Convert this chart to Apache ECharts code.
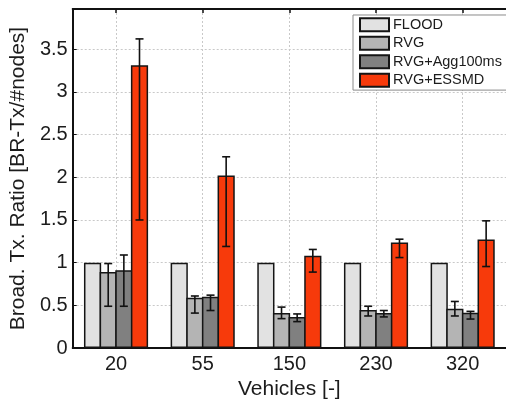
<!DOCTYPE html>
<html>
<head>
<meta charset="utf-8">
<script src="https://cdn.jsdelivr.net/npm/echarts@6/dist/echarts.min.js"></script>
<style>
  html, body { margin: 0; padding: 0; background: #fff; }
  #chart { width: 506px; height: 405px; }
</style>
</head>
<body>
<div id="chart"></div>
<script>
// Vehicle counts on the x axis
var categories = ['20', '55', '150', '230', '320'];

// Mean broadcast transmission ratio per scheme
var flood  = [1, 1, 1, 1, 1];
var rvg    = [0.89, 0.59, 0.41, 0.445, 0.46];
var rvgAgg = [0.91, 0.60, 0.365, 0.41, 0.415];
var essmd  = [3.31, 2.02, 1.08, 1.235, 1.27];

// Error bar ranges (low / high)
var rvgLow    = [0.49, 0.41, 0.345, 0.376, 0.376];
var rvgHigh   = [0.99, 0.61, 0.48, 0.49, 0.546];
var rvgAggLow = [0.49, 0.44, 0.31, 0.365, 0.34];
var rvgAggHigh= [1.09, 0.62, 0.40, 0.44, 0.43];
var essmdLow  = [1.50, 1.19, 0.89, 1.06, 0.955];
var essmdHigh = [3.62, 2.24, 1.155, 1.275, 1.49];

var seriesNames = ['FLOOD', 'RVG', 'RVG+Agg100ms', 'RVG+ESSMD'];
var colors = ['#e2e2e2', '#b4b4b4', '#808080', '#f73a0b'];

// Fraction of each category band occupied by the bar group; bars overlap
// slightly so neighbouring outlines merge into a single line
var GROUP_FRACTION = 0.74;
var GAP = -0.09;
var FONT = 'Liberation Sans, Arial, Helvetica, sans-serif';
var TEXT = '#1c1c1c';

function barSeries(name, data, color) {
  return {
    name: name,
    type: 'bar',
    data: data,
    barGap: (GAP * 100) + '%',
    barCategoryGap: ((1 - GROUP_FRACTION) * 100) + '%',
    itemStyle: { color: color, borderColor: '#151515', borderWidth: 1.5 },
    z: 2
  };
}

// Error bars drawn on top of the bar with the given slot index in the group
function errorSeries(slot, low, high) {
  var data = low.map(function (l, i) { return [i, l, high[i]]; });
  return {
    type: 'custom',
    data: data,
    z: 5,
    silent: true,
    encode: { x: 0, y: [1, 2] },
    renderItem: function (params, api) {
      var idx = api.value(0);
      var lo = api.coord([idx, api.value(1)]);
      var hi = api.coord([idx, api.value(2)]);
      var groupW = api.size([1, 0])[0] * GROUP_FRACTION;
      var barW = groupW / (4 + 3 * GAP);
      var x = lo[0] - groupW / 2 + barW / 2 + slot * barW * (1 + GAP);
      var cap = 4;
      var style = { stroke: '#111', lineWidth: 1.6 };
      return {
        type: 'group',
        children: [
          { type: 'line', shape: { x1: x, y1: lo[1], x2: x, y2: hi[1] }, style: style },
          { type: 'line', shape: { x1: x - cap, y1: lo[1], x2: x + cap, y2: lo[1] }, style: style },
          { type: 'line', shape: { x1: x - cap, y1: hi[1], x2: x + cap, y2: hi[1] }, style: style }
        ]
      };
    }
  };
}

var chart = echarts.init(document.getElementById('chart'), null, { renderer: 'canvas' });

chart.setOption({
  animation: false,
  backgroundColor: '#fff',
  grid: { left: 70, top: 9, width: 440, height: 343.5, containLabel: false },
  legend: {
    orient: 'vertical',
    left: 353,
    top: 15,
    padding: [2.3, 6, 2.3, 6],
    icon: 'rect',
    itemWidth: 29,
    itemHeight: 13,
    itemGap: 3.5,
    backgroundColor: '#fff',
    borderColor: '#8a8a8a',
    borderWidth: 1,
    textStyle: { fontFamily: FONT, fontSize: 14.5, lineHeight: 14, color: TEXT, padding: [0, 0, 0, -1] },
    data: seriesNames
  },
  xAxis: [
    {
      type: 'category',
      data: categories,
      position: 'bottom',
      name: 'Vehicles [-]',
      nameLocation: 'middle',
      nameGap: 26,
      nameTextStyle: { fontFamily: FONT, fontSize: 21, color: TEXT },
      axisLine: { lineStyle: { color: '#111', width: 2 } },
      axisTick: { show: true, inside: true, alignWithLabel: true, length: 4, lineStyle: { color: '#111' } },
      axisLabel: { fontFamily: FONT, fontSize: 20, color: TEXT, margin: 6 },
      splitLine: { show: true, alignWithLabel: true, lineStyle: { color: '#c9c9c9', type: [2, 2], width: 1 } }
    },
    {
      type: 'category',
      data: categories,
      position: 'top',
      axisLine: { lineStyle: { color: '#111', width: 2 } },
      axisTick: { show: true, inside: true, alignWithLabel: true, length: 4, lineStyle: { color: '#111', width: 1.5 } },
      axisLabel: { show: false },
      splitLine: { show: false }
    }
  ],
  yAxis: {
    type: 'value',
    min: 0,
    max: 3.97,
    interval: 0.5,
    name: 'Broad. Tx. Ratio [BR-Tx/#nodes]',
    nameLocation: 'middle',
    nameGap: 39,
    nameTextStyle: { fontFamily: FONT, fontSize: 21, color: TEXT },
    axisLine: { show: true, lineStyle: { color: '#111', width: 2 } },
    axisTick: { show: true, inside: true, length: 4, lineStyle: { color: '#111' } },
    axisLabel: { fontFamily: FONT, fontSize: 20, color: TEXT, margin: 5, showMaxLabel: false },
    splitLine: { show: true, lineStyle: { color: '#c9c9c9', type: [2, 2], width: 1 } }
  },
  series: [
    barSeries(seriesNames[0], flood, colors[0]),
    barSeries(seriesNames[1], rvg, colors[1]),
    barSeries(seriesNames[2], rvgAgg, colors[2]),
    barSeries(seriesNames[3], essmd, colors[3]),
    errorSeries(1, rvgLow, rvgHigh),
    errorSeries(2, rvgAggLow, rvgAggHigh),
    errorSeries(3, essmdLow, essmdHigh)
  ]
});
</script>
</body>
</html>
